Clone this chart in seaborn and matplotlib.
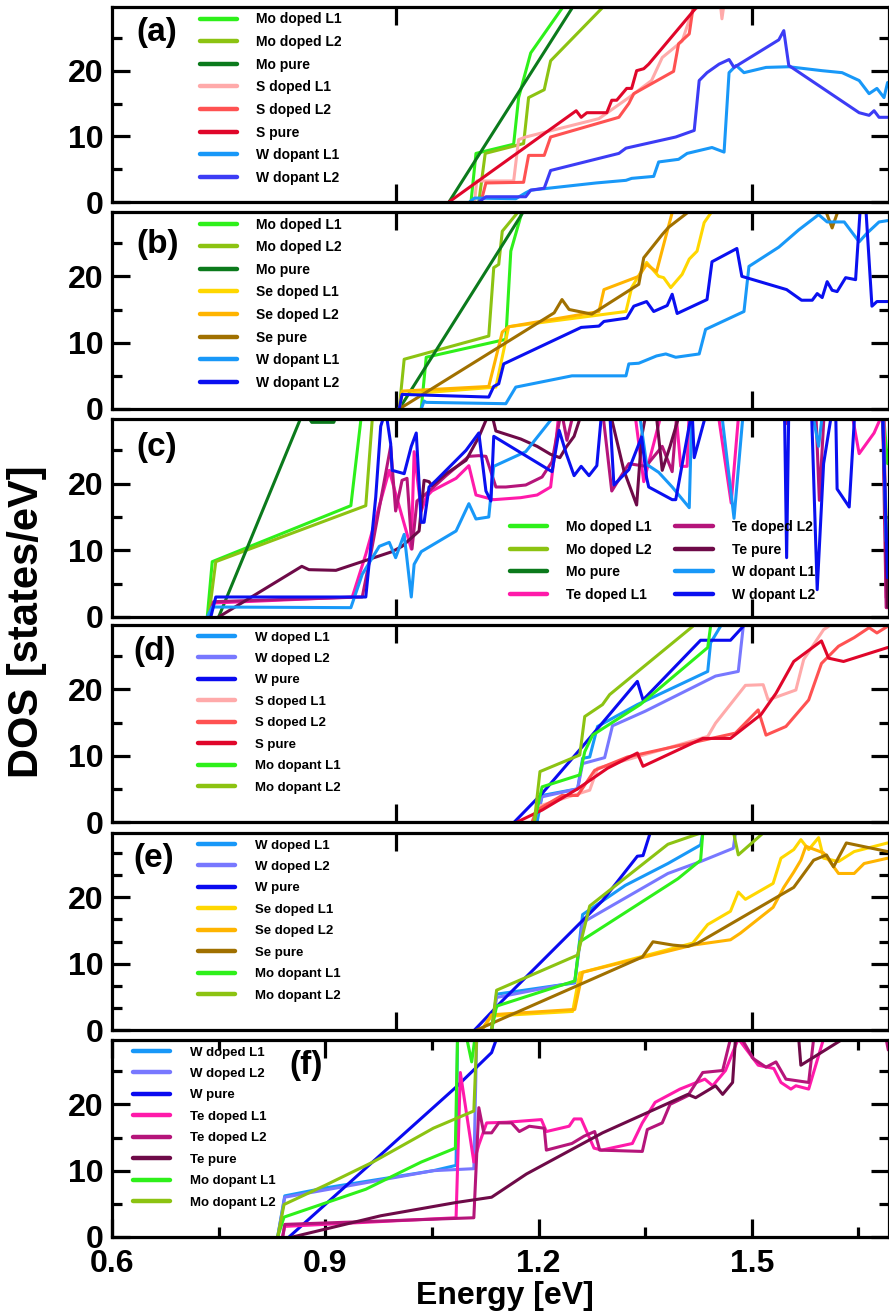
import numpy as np
import pandas as pd
import matplotlib
matplotlib.use("Agg")
import matplotlib.pyplot as plt
from matplotlib.lines import Line2D
from matplotlib.ticker import MultipleLocator, NullLocator, FormatStrFormatter
from matplotlib import font_manager
import seaborn as sns

# ---------------- data (energy [eV], DOS [states/eV]) ----------------
# (a) MoS2 host, W dopant
a_mo_l1 = ([1.105, 1.112, 1.165, 1.172, 1.189, 1.233, 1.26], [0, 7.4, 8.8, 15.9, 22.7, 29.5, 33])
a_mo_l2 = ([1.116, 1.125, 1.179, 1.186, 1.208, 1.217, 1.289, 1.31], [0, 7.4, 8.9, 15.9, 17.1, 21.5, 29.5, 32])
a_mo_pure = ([1.074, 1.247, 1.30], [0, 29.5, 38.5])
a_s_l1 = ([1.110, 1.113, 1.165, 1.172, 1.182, 1.285, 1.327, 1.359, 1.374, 1.402, 1.416, 1.44, 1.455, 1.458, 1.462],
          [0, 3.2, 3.2, 9.5, 9.9, 12.7, 15.9, 18.5, 22.0, 24.5, 29.0, 31, 31, 27.9, 31])
a_s_l2 = ([1.119, 1.126, 1.179, 1.186, 1.208, 1.217, 1.313, 1.327, 1.334, 1.390, 1.397, 1.412, 1.416, 1.42],
          [0, 2.9, 3.0, 7.1, 7.1, 9.9, 12.9, 15.0, 16.5, 19.9, 24.1, 25.6, 28.6, 31])
a_s_pure = ([1.074, 1.253, 1.260, 1.268, 1.296, 1.303, 1.310, 1.324, 1.331, 1.338, 1.348, 1.355, 1.421, 1.45],
            [0, 13.9, 12.9, 13.6, 13.6, 15.5, 15.5, 17.3, 17.3, 20.0, 20.3, 21.0, 29.5, 33.5])
a_w_l1 = ([1.103, 1.110, 1.168, 1.182, 1.189, 1.281, 1.323, 1.331, 1.362, 1.369, 1.397, 1.409, 1.444, 1.461,
           1.468, 1.478, 1.489, 1.520, 1.552, 1.599, 1.627, 1.651, 1.665, 1.676, 1.686, 1.691],
          [0, 0.6, 0.5, 1.4, 1.8, 2.9, 3.3, 3.6, 3.9, 6.1, 6.5, 7.4, 8.3, 7.6,
           19.7, 20.8, 19.7, 20.5, 20.6, 20.0, 19.7, 18.5, 16.5, 17.3, 15.9, 18.2])
a_w_l2 = ([1.116, 1.126, 1.182, 1.189, 1.208, 1.217, 1.313, 1.323, 1.393, 1.419, 1.426, 1.437, 1.454, 1.468,
           1.475, 1.538, 1.545, 1.552, 1.651, 1.665, 1.672, 1.679, 1.691],
          [0, 0.8, 0.8, 1.8, 2.1, 4.8, 7.4, 8.2, 9.9, 10.9, 18.5, 19.7, 21.0, 21.7,
           20.5, 24.7, 26.1, 20.8, 13.6, 13.2, 13.9, 12.9, 12.9])

# (b) MoSe2 host, W dopant
b_mo_l1 = ([1.035, 1.042, 1.154, 1.161, 1.177, 1.19], [0, 7.8, 10.5, 23.8, 29.8, 32])
b_mo_l2 = ([1.004, 1.011, 1.130, 1.137, 1.144, 1.149, 1.172, 1.19], [0, 7.5, 11.0, 21.3, 21.8, 26.8, 29.8, 32])
b_mo_pure = ([1.004, 1.179, 1.20], [0, 29.8, 33.5])
b_se_l1 = ([1.004, 1.008, 1.140, 1.158, 1.323, 1.331, 1.352, 1.369, 1.376, 1.386, 1.402, 1.412, 1.423, 1.433, 1.444, 1.46],
           [0, 2.2, 3.3, 12.4, 14.7, 18.3, 22.1, 20.0, 19.8, 18.3, 20.3, 22.6, 23.8, 28.1, 29.8, 32])
b_se_l2 = ([1.004, 1.008, 1.130, 1.149, 1.158, 1.285, 1.292, 1.341, 1.352, 1.366, 1.379, 1.388, 1.40],
           [0, 2.7, 3.4, 11.6, 12.4, 14.7, 18.0, 20.0, 21.8, 20.7, 26.0, 29.6, 32])
b_se_pure = ([1.004, 1.222, 1.233, 1.243, 1.275, 1.341, 1.348, 1.374, 1.383, 1.412, 1.43, 1.60, 1.613, 1.625],
             [0, 14.5, 16.5, 15.0, 14.3, 18.8, 22.8, 26.3, 27.4, 29.8, 31, 31, 27.3, 31])
b_w_l1 = ([1.035, 1.039, 1.042, 1.154, 1.168, 1.247, 1.323, 1.327, 1.341, 1.366, 1.379, 1.393, 1.426, 1.435,
           1.489, 1.496, 1.538, 1.566, 1.594, 1.606, 1.630, 1.644, 1.651, 1.662, 1.679, 1.691],
          [0, 1.2, 1.0, 0.8, 3.3, 5.0, 5.0, 6.8, 6.9, 8.0, 8.3, 7.8, 8.3, 12.0,
           14.7, 21.5, 24.4, 27.0, 29.3, 28.2, 28.2, 26.2, 25.2, 26.5, 28.2, 28.4])
b_w_l2 = ([1.004, 1.008, 1.130, 1.137, 1.144, 1.151, 1.260, 1.285, 1.292, 1.324, 1.334, 1.352, 1.362, 1.381,
           1.388, 1.395, 1.437, 1.444, 1.479, 1.486, 1.549, 1.570, 1.585, 1.592, 1.599, 1.606, 1.613, 1.620,
           1.632, 1.646, 1.653, 1.660, 1.669, 1.676, 1.691],
          [0, 2.2, 1.8, 3.4, 3.8, 6.8, 12.3, 12.5, 13.2, 13.7, 15.5, 16.2, 14.7, 15.6,
           17.3, 14.4, 16.5, 22.2, 24.2, 20.0, 18.0, 16.4, 16.4, 17.4, 16.8, 19.2, 17.9, 17.7,
           19.8, 19.5, 31, 31, 15.5, 16.2, 16.2])

# (c) MoTe2 host, W dopant
c_mo_l1 = ([0.734, 0.741, 0.936, 0.950, 0.960, 1.684, 1.686, 1.691], [0, 8.3, 16.7, 29.5, 32, 32, 29.5, 23])
c_mo_l2 = ([0.736, 0.746, 0.957, 0.966, 0.975, 1.684, 1.691], [0, 8.3, 16.7, 29.5, 32, 32, 8])
c_mo_pure = ([0.750, 0.870, 0.881, 0.912, 0.925], [0, 31, 29.2, 29.2, 33])
c_te_l1 = ([0.736, 0.743, 0.938, 0.957, 0.990, 0.999, 1.021, 1.025, 1.035, 1.042, 1.050, 1.084, 1.102, 1.112,
            1.137, 1.175, 1.198, 1.217, 1.223, 1.229, 1.335, 1.348, 1.362, 1.374, 1.393, 1.400, 1.409, 1.412,
            1.452, 1.471, 1.482, 1.640, 1.651, 1.672, 1.686, 1.689, 1.691],
           [0, 2.1, 3.0, 9.4, 22.0, 18.5, 10.2, 24.8, 15.9, 18.0, 18.9, 20.8, 22.7, 18.3,
            17.6, 17.9, 18.3, 19.5, 24.8, 31, 31, 20.3, 26.0, 31, 31, 22.6, 22.6, 31,
            31, 17.1, 31, 31, 24.5, 27.6, 31, 2.9, 2.9])
c_te_l2 = ([0.736, 0.743, 0.952, 0.964, 0.992, 0.999, 1.008, 1.015, 1.022, 1.029, 1.042, 1.070, 1.102, 1.116,
            1.126, 1.140, 1.154, 1.182, 1.205, 1.219, 1.226, 1.232, 1.240, 1.250, 1.290, 1.303, 1.327, 1.351,
            1.374, 1.388, 1.395, 1.540, 1.548, 1.560, 1.590, 1.595, 1.602, 1.684, 1.689, 1.691],
           [0, 2.3, 3.0, 9.4, 25.6, 15.9, 20.5, 20.8, 10.2, 17.4, 18.5, 21.2, 24.1, 24.2,
            24.1, 19.5, 19.5, 19.8, 21.0, 23.3, 27.4, 31, 26.5, 31, 31, 18.9, 23.0, 22.6,
            25.6, 21.8, 31, 31, 29.0, 31, 31, 17.5, 31, 31, 1.4, 1.4])
c_te_pure = ([0.750, 0.867, 0.877, 0.915, 0.994, 1.008, 1.032, 1.039, 1.046, 1.050, 1.070, 1.098, 1.116, 1.126,
              1.133, 1.140, 1.175, 1.198, 1.217, 1.230, 1.239, 1.250, 1.262, 1.300, 1.320, 1.338, 1.345, 1.352,
              1.365, 1.374, 1.385, 1.400, 1.684, 1.691],
             [0, 7.6, 7.1, 7.0, 9.8, 10.6, 12.9, 20.5, 20.3, 19.7, 21.5, 23.5, 27.0, 29.5,
              31, 27.9, 26.7, 25.6, 24.4, 23.9, 25.5, 27.1, 31, 31, 22.0, 16.8, 27.0, 31,
              31, 22.0, 25.6, 31, 31, 1.5])
c_w_l1 = ([0.734, 0.741, 0.936, 0.952, 0.976, 0.990, 0.999, 1.011, 1.021, 1.025, 1.035, 1.084, 1.102, 1.112,
           1.130, 1.137, 1.182, 1.217, 1.228, 1.340, 1.352, 1.369, 1.388, 1.412, 1.416, 1.456, 1.475, 1.489,
           1.583, 1.594, 1.601, 1.684, 1.689, 1.691],
          [0, 1.5, 1.4, 6.4, 10.6, 11.2, 8.9, 12.4, 3.0, 7.9, 9.8, 12.9, 17.0, 14.7,
           15.0, 22.6, 24.8, 29.5, 32, 32, 22.9, 21.7, 19.5, 16.4, 32, 32, 14.8, 32,
           32, 25.6, 32, 32, 11.4, 10.5])
c_w_l2 = ([0.739, 0.746, 0.957, 0.971, 0.978, 0.985, 0.992, 0.994, 1.011, 1.021, 1.028, 1.035, 1.039, 1.046,
           1.056, 1.098, 1.116, 1.126, 1.133, 1.137, 1.219, 1.229, 1.239, 1.250, 1.260, 1.271, 1.282, 1.289,
           1.300, 1.306, 1.327, 1.345, 1.352, 1.355, 1.388, 1.393, 1.416, 1.419, 1.437, 1.546, 1.549, 1.552,
           1.584, 1.592, 1.601, 1.613, 1.618, 1.620, 1.632, 1.637, 1.645, 1.684, 1.691],
          [0, 3.0, 3.0, 18.0, 28.6, 31, 26.0, 22.0, 21.5, 25.6, 27.6, 14.2, 14.2, 19.5,
           20.5, 25.0, 27.6, 18.9, 17.4, 27.1, 21.8, 28.0, 24.5, 21.2, 22.6, 21.2, 22.7, 31,
           31, 19.8, 22.1, 27.0, 20.9, 19.5, 17.6, 17.6, 31, 23.9, 31, 31, 8.9, 31,
           31, 4.1, 23.0, 31, 31, 19.2, 17.3, 16.5, 31, 31, 5.9])

# (d) WS2 host, Mo dopant
d_w_l1 = ([1.198, 1.205, 1.255, 1.262, 1.272, 1.283, 1.339, 1.438, 1.442, 1.456, 1.47],
          [0, 4.0, 5.0, 9.6, 9.8, 14.4, 17.7, 22.7, 27.0, 29.5, 32])
d_w_l2 = ([1.194, 1.205, 1.255, 1.262, 1.293, 1.304, 1.350, 1.449, 1.481, 1.488, 1.50],
          [0, 3.8, 5.0, 8.8, 9.7, 14.5, 16.7, 22.0, 22.7, 29.5, 32])
d_w_pure = ([1.166, 1.205, 1.262, 1.339, 1.347, 1.428, 1.470, 1.488, 1.50],
            [0, 4.3, 11.4, 21.2, 18.4, 27.4, 27.4, 29.5, 32])
d_s_l1 = ([1.191, 1.198, 1.272, 1.283, 1.438, 1.449, 1.491, 1.516, 1.523, 1.562, 1.573, 1.601, 1.608, 1.62],
          [0, 2.3, 4.8, 8.1, 12.9, 14.9, 20.6, 20.7, 18.4, 19.9, 24.5, 29.0, 29.5, 32])
d_s_l2 = ([1.191, 1.198, 1.233, 1.255, 1.279, 1.325, 1.477, 1.509, 1.520, 1.548, 1.580, 1.598, 1.622, 1.644,
           1.665, 1.676, 1.691],
          [0, 1.8, 4.0, 4.0, 7.8, 9.8, 13.4, 16.9, 13.1, 14.4, 18.4, 23.9, 26.5, 27.8,
           29.3, 28.5, 29.5])
d_s_pure = ([1.170, 1.205, 1.255, 1.297, 1.339, 1.347, 1.431, 1.470, 1.513, 1.534, 1.559, 1.598, 1.608, 1.629, 1.691],
            [0, 1.8, 5.0, 8.1, 10.4, 8.4, 12.6, 12.6, 16.2, 19.4, 24.2, 27.3, 24.7, 24.2, 26.3])
d_mo_l1 = ([1.194, 1.205, 1.258, 1.265, 1.276, 1.343, 1.438, 1.442, 1.45],
           [0, 5.3, 7.1, 10.6, 13.1, 17.7, 26.3, 29.5, 32])
d_mo_l2 = ([1.194, 1.202, 1.258, 1.265, 1.290, 1.300, 1.417, 1.43],
           [0, 7.6, 10.1, 15.9, 17.7, 19.2, 29.5, 31.5])

# (e) WSe2 host, Mo dopant
e_w_l1 = ([1.134, 1.141, 1.251, 1.262, 1.322, 1.382, 1.428, 1.431, 1.44],
          [0, 5.4, 7.1, 17.4, 21.8, 25.1, 27.9, 29.7, 32])
e_w_l2 = ([1.134, 1.141, 1.251, 1.262, 1.382, 1.428, 1.474, 1.477, 1.49],
          [0, 4.9, 7.2, 16.2, 23.6, 25.4, 27.4, 29.7, 32])
e_w_pure = ([1.110, 1.149, 1.290, 1.339, 1.347, 1.357, 1.37],
            [0, 4.4, 19.5, 26.2, 26.3, 29.7, 32])
e_se_l1 = ([1.120, 1.134, 1.248, 1.258, 1.417, 1.438, 1.470, 1.481, 1.491, 1.530, 1.541, 1.559, 1.569, 1.580,
            1.594, 1.601, 1.622, 1.644, 1.691],
           [0, 2.1, 2.8, 8.6, 13.1, 15.9, 17.9, 20.8, 19.7, 22.1, 25.9, 27.2, 28.7, 27.2,
            29.0, 25.9, 25.4, 26.9, 28.2])
e_se_l2 = ([1.120, 1.134, 1.251, 1.262, 1.417, 1.470, 1.484, 1.530, 1.545, 1.559, 1.569, 1.576, 1.601, 1.622,
            1.644, 1.658, 1.691],
           [0, 2.3, 3.1, 8.7, 12.8, 13.6, 14.6, 18.5, 21.5, 23.8, 25.6, 27.7, 26.7, 23.6,
            23.6, 25.1, 25.9])
e_se_pure = ([1.113, 1.346, 1.361, 1.389, 1.410, 1.424, 1.559, 1.587, 1.605, 1.615, 1.633, 1.691],
             [0, 11.0, 13.3, 12.8, 12.6, 13.1, 21.5, 25.6, 26.4, 24.6, 28.2, 26.9])
e_mo_l1 = ([1.134, 1.141, 1.251, 1.258, 1.396, 1.428, 1.431, 1.44],
           [0, 3.6, 7.4, 13.3, 22.8, 25.6, 29.7, 32])
e_mo_l2 = ([1.134, 1.141, 1.255, 1.272, 1.382, 1.428, 1.44, 1.470, 1.481, 1.516, 1.53],
           [0, 6.0, 11.3, 18.7, 28.0, 29.7, 32, 32, 26.4, 29.7, 32])

# (f) WTe2 host, Mo dopant
f_w_l1 = ([0.833, 0.843, 0.900, 1.052, 1.084, 1.086, 1.09], [0, 6.2, 7.4, 10.0, 10.8, 29.9, 34])
f_w_l2 = ([0.833, 0.843, 1.052, 1.109, 1.113, 1.116], [0, 6.0, 10.0, 10.3, 29.9, 34])
f_w_pure = ([0.849, 1.084, 1.134, 1.141, 1.15], [0, 22.6, 27.8, 29.9, 33])
f_te_l1 = ([0.840, 0.843, 1.084, 1.090, 1.109, 1.116, 1.127, 1.155, 1.204, 1.211, 1.243, 1.250, 1.260, 1.278,
            1.289, 1.332, 1.346, 1.364, 1.399, 1.434, 1.445, 1.463, 1.481, 1.509, 1.531, 1.541, 1.555, 1.562,
            1.580, 1.601, 1.62],
           [0, 1.6, 2.9, 24.8, 11.3, 13.9, 17.2, 17.3, 17.7, 15.9, 16.7, 17.8, 17.8, 13.4,
            13.1, 14.1, 17.2, 20.3, 22.3, 23.8, 22.8, 25.1, 29.9, 25.9, 25.4, 23.3, 22.3, 22.8,
            22.3, 29.9, 33])
f_te_l2 = ([0.840, 0.843, 1.109, 1.116, 1.123, 1.134, 1.144, 1.162, 1.173, 1.187, 1.208, 1.211, 1.247, 1.264,
            1.279, 1.286, 1.346, 1.353, 1.374, 1.385, 1.410, 1.431, 1.459, 1.470, 1.48, 1.502, 1.520, 1.534,
            1.548, 1.580, 1.587, 1.60, 1.685, 1.692],
           [0, 1.9, 2.9, 19.5, 15.7, 15.7, 17.2, 17.2, 15.9, 16.7, 16.4, 13.1, 14.1, 15.2,
            15.9, 13.1, 12.9, 16.2, 17.2, 20.0, 21.3, 24.8, 25.1, 29.9, 31, 26.9, 25.6, 26.4,
            23.8, 23.3, 29.9, 32, 32, 28.2])
f_te_pure = ([0.854, 0.978, 1.084, 1.134, 1.183, 1.290, 1.410, 1.421, 1.449, 1.459, 1.473, 1.477, 1.49, 1.56,
              1.566, 1.569, 1.629, 1.64],
             [0, 3.2, 5.2, 6.0, 9.5, 15.7, 21.5, 21.0, 22.8, 21.5, 23.3, 29.9, 32, 32,
              29.9, 25.9, 29.9, 32])
f_mo_l1 = ([0.833, 0.842, 0.957, 1.035, 1.083, 1.086, 1.095, 1.106, 1.113],
           [0, 3.0, 7.2, 11.3, 13.4, 29.9, 32, 26.4, 32])
f_mo_l2 = ([0.833, 0.842, 0.900, 0.967, 1.052, 1.109, 1.113, 1.116],
           [0, 4.9, 7.8, 11.3, 16.4, 19.0, 29.9, 34])

# ---------------- colours ----------------
MO_L1 = "#2ef01a"
MO_L2 = "#8cc312"
MO_PURE = "#0b7a1c"
S_L1 = "#ffaaaa"
S_L2 = "#ff5252"
S_PURE = "#e0062a"
SE_L1 = "#ffd700"
SE_L2 = "#ffb400"
SE_PURE = "#a07000"
TE_L1 = "#ff1aaa"
TE_L2 = "#b5157a"
TE_PURE = "#6e0a48"
W_L1 = "#1898f8"
W_L2_A = "#3c3cf5"
W_L2_B = "#0a10f0"
W_DOPED_L2 = "#7878ff"
W_PURE = "#0a0af0"

panels = [
    ("(a)", [("Mo doped L1", a_mo_l1, MO_L1), ("Mo doped L2", a_mo_l2, MO_L2), ("Mo pure", a_mo_pure, MO_PURE),
             ("S doped L1", a_s_l1, S_L1), ("S doped L2", a_s_l2, S_L2), ("S pure", a_s_pure, S_PURE),
             ("W dopant L1", a_w_l1, W_L1), ("W dopant L2", a_w_l2, W_L2_A)]),
    ("(b)", [("Mo doped L1", b_mo_l1, MO_L1), ("Mo doped L2", b_mo_l2, MO_L2), ("Mo pure", b_mo_pure, MO_PURE),
             ("Se doped L1", b_se_l1, SE_L1), ("Se doped L2", b_se_l2, SE_L2), ("Se pure", b_se_pure, SE_PURE),
             ("W dopant L1", b_w_l1, W_L1), ("W dopant L2", b_w_l2, W_L2_B)]),
    ("(c)", [("Mo doped L1", c_mo_l1, MO_L1), ("Mo doped L2", c_mo_l2, MO_L2), ("Mo pure", c_mo_pure, MO_PURE),
             ("Te doped L1", c_te_l1, TE_L1), ("Te doped L2", c_te_l2, TE_L2), ("Te pure", c_te_pure, TE_PURE),
             ("W dopant L1", c_w_l1, W_L1), ("W dopant L2", c_w_l2, W_L2_B)]),
    ("(d)", [("W doped L1", d_w_l1, W_L1), ("W doped L2", d_w_l2, W_DOPED_L2), ("W pure", d_w_pure, W_PURE),
             ("S doped L1", d_s_l1, S_L1), ("S doped L2", d_s_l2, S_L2), ("S pure", d_s_pure, S_PURE),
             ("Mo dopant L1", d_mo_l1, MO_L1), ("Mo dopant L2", d_mo_l2, MO_L2)]),
    ("(e)", [("W doped L1", e_w_l1, W_L1), ("W doped L2", e_w_l2, W_DOPED_L2), ("W pure", e_w_pure, W_PURE),
             ("Se doped L1", e_se_l1, SE_L1), ("Se doped L2", e_se_l2, SE_L2), ("Se pure", e_se_pure, SE_PURE),
             ("Mo dopant L1", e_mo_l1, MO_L1), ("Mo dopant L2", e_mo_l2, MO_L2)]),
    ("(f)", [("W doped L1", f_w_l1, W_L1), ("W doped L2", f_w_l2, W_DOPED_L2), ("W pure", f_w_pure, W_PURE),
             ("Te doped L1", f_te_l1, TE_L1), ("Te doped L2", f_te_l2, TE_L2), ("Te pure", f_te_pure, TE_PURE),
             ("Mo dopant L1", f_mo_l1, MO_L1), ("Mo dopant L2", f_mo_l2, MO_L2)]),
]

# pixel layout of the six frames (top, bottom) in a 1314 px tall figure
frames = [(7, 202), (212, 409), (419, 617), (625, 822), (833, 1030), (1040, 1237)]
letter_pos = [(0.032, 0.869), (0.032, 0.835), (0.032, 0.854), (0.027, 0.863), (0.027, 0.873), (0.228, 0.873)]

sns.set_theme(style="ticks")
plt.rcParams["font.family"] = ["Liberation Sans", "DejaVu Sans"]
plt.rcParams["font.weight"] = "bold"
plt.rcParams["axes.linewidth"] = 2.3
for key in ("axes.edgecolor", "text.color", "xtick.color", "ytick.color", "axes.labelcolor"):
    plt.rcParams[key] = "black"

names = {f.name for f in font_manager.fontManager.ttflist}
if "Liberation Sans Narrow" in names:
    narrow_prop = {"family": "Liberation Sans Narrow", "weight": "bold", "size": 10.5}
else:
    narrow_prop = {"family": "Liberation Sans", "weight": "bold", "size": 9.5}
wide_prop = {"family": "Liberation Sans", "weight": "bold", "size": 10}

fig = plt.figure(figsize=(8.89, 13.14), dpi=100)
H = 1314.0
left = 112 / 889.0

for i, (letter, series) in enumerate(panels):
    top, bot = frames[i]
    ax = fig.add_axes([left, 1 - bot / H, 1 - left, (bot - top) / H])

    parts = []
    for label, (xs, ys), col in series:
        parts.append(pd.DataFrame({"energy": xs, "dos": ys, "curve": label}))
    df = pd.concat(parts, ignore_index=True)
    labels = [s[0] for s in series]
    colors = {s[0]: s[2] for s in series}

    sns.lineplot(data=df, x="energy", y="dos", hue="curve", hue_order=labels, palette=colors,
                 estimator=None, sort=False, linewidth=2.2, legend=False, ax=ax)
    ax.set(xlabel="", ylabel="")
    ax.set_xlim(0.6, 1.693)
    ax.set_ylim(0, 29.7)

    ax.yaxis.set_major_locator(MultipleLocator(10))
    ax.yaxis.set_minor_locator(MultipleLocator(10 / 3 if letter == "(e)" else 5))
    if letter == "(f)":
        ax.xaxis.set_major_locator(MultipleLocator(0.3))
        ax.xaxis.set_minor_locator(MultipleLocator(0.15))
        ax.xaxis.set_major_formatter(FormatStrFormatter("%.1f"))
    else:
        ax.xaxis.set_major_locator(MultipleLocator(0.5))
        ax.xaxis.set_minor_locator(NullLocator())
    ax.tick_params(which="major", direction="in", length=13, width=2.3, top=True, right=True,
                   labelsize=23, pad=6, labelbottom=(letter == "(f)"))
    ax.tick_params(which="minor", direction="in", length=7, width=2.3, top=True, right=True)
    ax.tick_params(axis="x", which="major", pad=9)
    for lab in ax.get_xticklabels() + ax.get_yticklabels():
        lab.set_fontweight("bold")

    handles = [Line2D([], [], color=s[2], lw=3.2) for s in series]
    if letter == "(c)":
        ax.legend(handles, labels, loc="upper left", bbox_to_anchor=(0.512, 0.49), ncol=2,
                  frameon=False, borderpad=0, borderaxespad=0, handlelength=2.7, handletextpad=1.35,
                  labelspacing=0.62, columnspacing=1.7, prop=wide_prop)
    elif letter in ("(a)", "(b)"):
        ax.legend(handles, labels, loc="upper left", bbox_to_anchor=(0.113, 0.972), frameon=False,
                  borderpad=0, borderaxespad=0, handlelength=2.7, handletextpad=1.35,
                  labelspacing=0.62, prop=wide_prop)
    else:
        xa = 0.027 if letter == "(f)" else 0.111
        ax.legend(handles, labels, loc="upper left", bbox_to_anchor=(xa, 0.968), frameon=False,
                  borderpad=0, borderaxespad=0, handlelength=2.8, handletextpad=1.5,
                  labelspacing=0.7, prop=narrow_prop)

    lx, ly = letter_pos[i]
    ax.text(lx, ly, letter, transform=ax.transAxes, fontsize=24, fontweight="bold", va="center", ha="left")

fig.text(0.03, 1 - 622 / H, "DOS [states/eV]", rotation=90, fontsize=30, fontweight="bold",
         ha="center", va="center")
fig.text(0.568, 1 - 1296 / H, "Energy [eV]", fontsize=23, fontweight="bold", ha="center", va="center")

fig.savefig("out.png", dpi=100)
